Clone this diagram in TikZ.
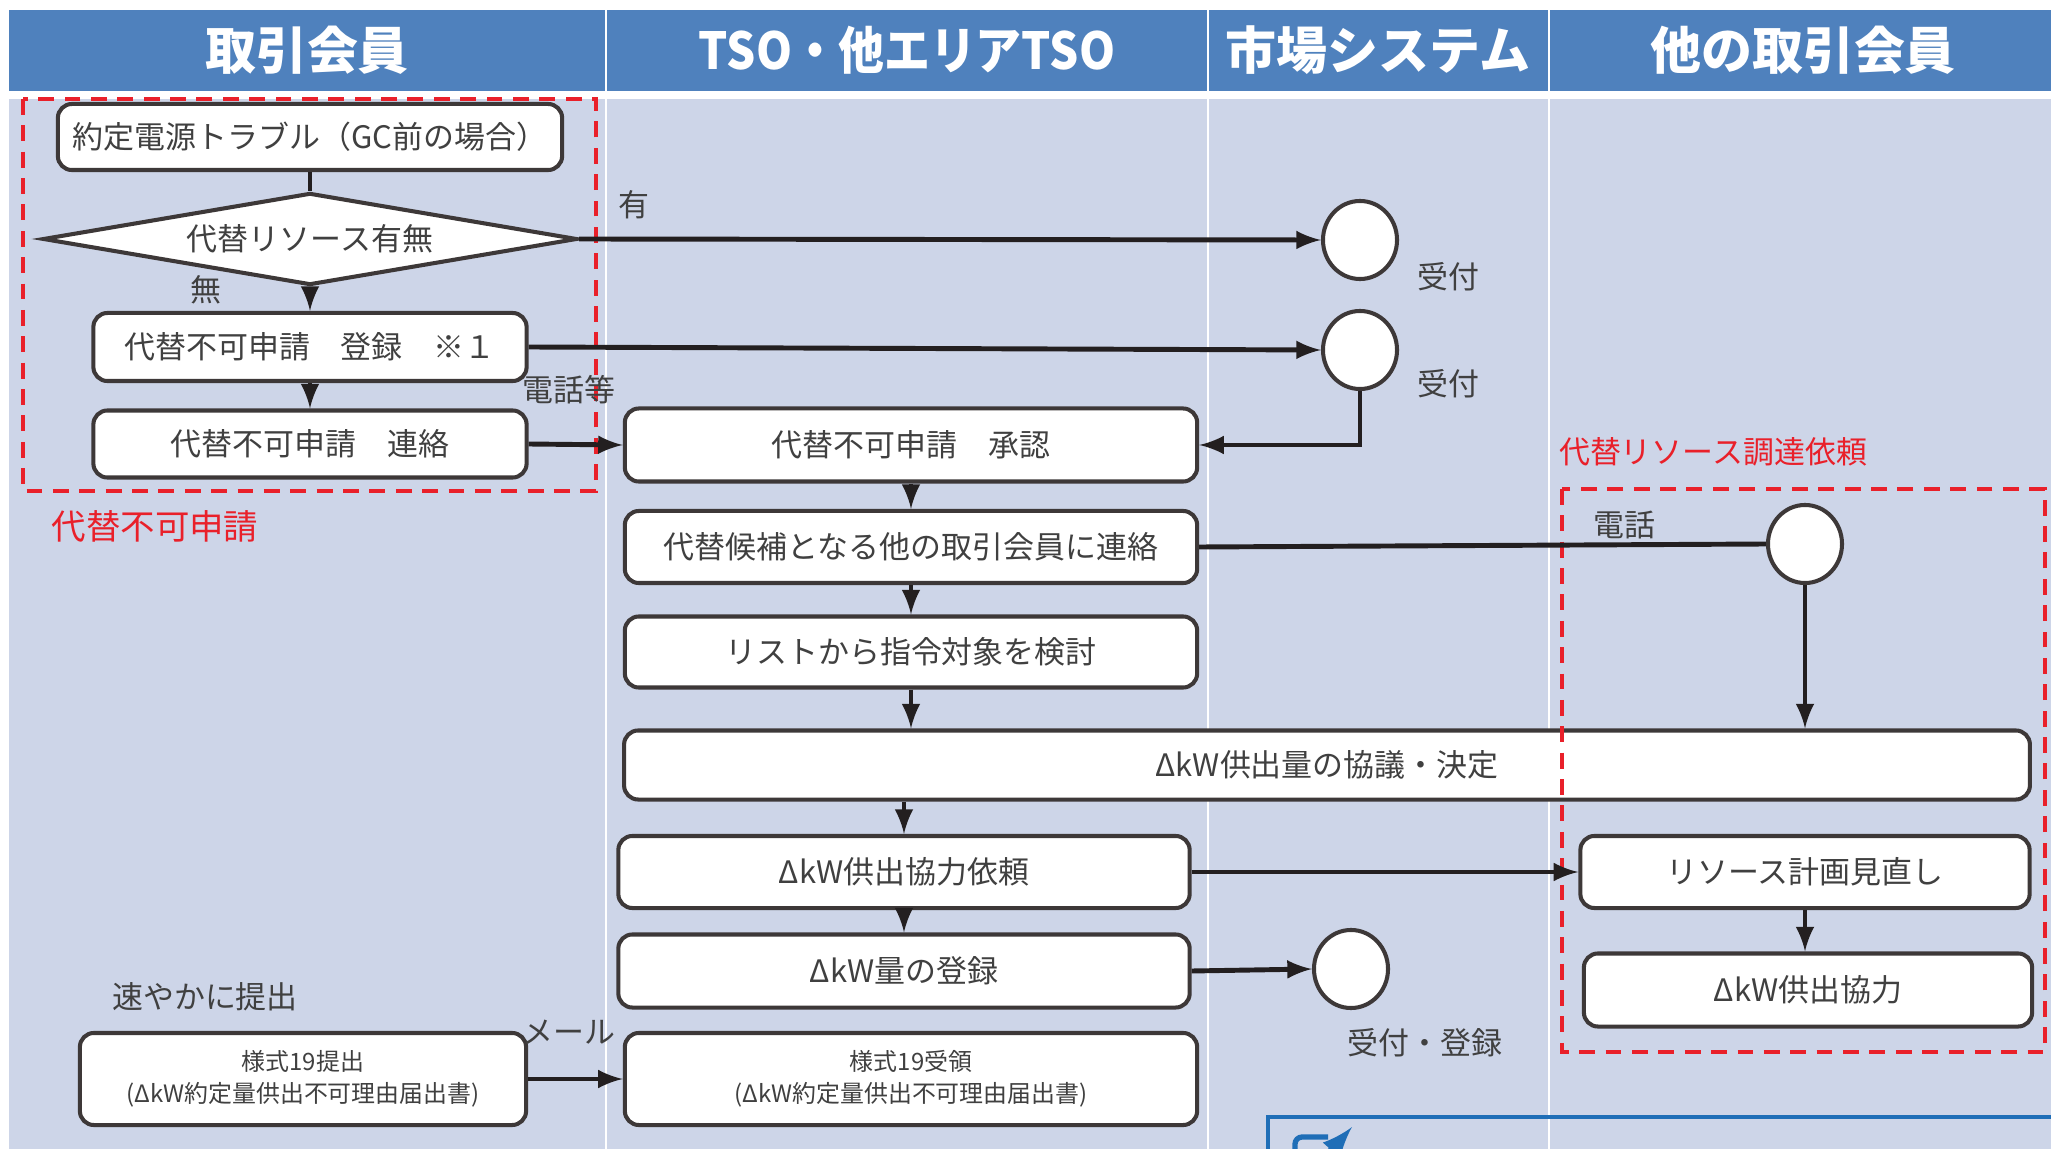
\documentclass[tikz,border=0pt]{standalone}
\usepackage{fontspec}
\setmainfont{Noto Sans CJK JP}
\usetikzlibrary{shapes.geometric}
\definecolor{entete}{HTML}{4F81BD}
\definecolor{fond}{HTML}{CDD5E8}
\definecolor{trait}{HTML}{3D3838}
\definecolor{fleche}{HTML}{231F20}
\definecolor{texte}{HTML}{404040}
\definecolor{rouge}{HTML}{E9202A}
\definecolor{bleu}{HTML}{1F6EB7}
\begin{document}
\begin{tikzpicture}[x=.01cm,y=-.01cm,
		boite/.style={draw=trait,line width=1.15pt,fill=white,rounded corners=4pt,text=texte,font=\fontsize{8.8}{10}\selectfont,inner sep=0pt},
		rond/.style={ellipse,draw=trait,line width=1.15pt,fill=white,minimum width=.74cm,minimum height=.78cm,inner sep=0pt},
		fl/.style={-latex,draw=fleche,line width=1.4pt},
		lab/.style={text=texte,font=\fontsize{8.8}{10}\selectfont},
		rlab/.style={text=rouge,font=\fontsize{8.8}{10}\selectfont},
		cadre/.style={rouge,line width=1.15pt,dash pattern=on 4.5pt off 3pt},
		titre/.style={text=white,font=\fontsize{14.5}{16}\selectfont\bfseries}]
		
		\useasboundingbox (0,0) rectangle (2051,1149);
		\fill[entete] (9,10) rectangle (2051,91);
		\fill[fond] (9,99) rectangle (2051,1149);
		\foreach \k in {606,1208,1549}{
			\draw[white,line width=.8pt] (\k,10) to (\k,1149); }
		
		\node[titre] (h1) at (307,50) {取引会員};
		\node[titre,xscale=.9,transform shape] (h2) at (907,50) {TSO・他エリアTSO};
		\node[titre] (h3) at (1378,50) {市場システム};
		\node[titre] (h4) at (1803,50) {他の取引会員};
		
		%colonne取引会員
		\node[boite,minimum width=5.04cm,minimum height=.66cm] (n1) at (310,137) {約定電源トラブル（GC前の場合）};
		\node[diamond,draw=trait,line width=1.15pt,fill=white,text=texte,font=\fontsize{8.8}{10}\selectfont,inner sep=0pt,aspect=5.8,minimum width=5.34cm,minimum height=.92cm] (d1) at (310,239) {代替リソース有無};
		\node[boite,minimum width=4.33cm,minimum height=.68cm] (n2) at (310,347) {代替不可申請　登録　※１};
		\node[boite,minimum width=4.33cm,minimum height=.67cm] (n3) at (310,444) {代替不可申請　連絡};
		\node[boite,minimum width=4.46cm,minimum height=.92cm,font=\fontsize{6.8}{9}\selectfont,align=center] (n4) at (303,1079) {様式19提出\\(ΔkW約定量供出不可理由届出書)};
		
		%colonne TSO
		\node[boite,minimum width=5.72cm,minimum height=.73cm] (t1) at (911,445) {代替不可申請　承認};
		\node[boite,minimum width=5.72cm,minimum height=.72cm] (t2) at (911,547) {代替候補となる他の取引会員に連絡};
		\node[boite,minimum width=5.72cm,minimum height=.71cm] (t3) at (911,652) {リストから指令対象を検討};
		\node[boite,minimum width=14.05cm,minimum height=.69cm] (t4) at (1327,765) {ΔkW供出量の協議・決定};
		\node[boite,minimum width=5.71cm,minimum height=.72cm] (t5) at (904,872) {ΔkW供出協力依頼};
		\node[boite,minimum width=5.71cm,minimum height=.73cm] (t6) at (904,971) {ΔkW量の登録};
		\node[boite,minimum width=5.72cm,minimum height=.92cm,font=\fontsize{6.8}{9}\selectfont,align=center] (t7) at (911,1079) {様式19受領\\(ΔkW約定量供出不可理由届出書)};
		
		%colonne 他の取引会員
		\node[boite,minimum width=4.49cm,minimum height=.72cm] (r1) at (1805,872) {リソース計画見直し};
		\node[boite,minimum width=4.48cm,minimum height=.73cm] (r2) at (1808,990) {ΔkW供出協力};
		
		\node[rond] (c1) at (1360,240) {};
		\node[rond] (c2) at (1360,350) {};
		\node[rond] (c3) at (1805,544) {};
		\node[rond] (c4) at (1351,969) {};
		
		\draw[cadre] (23,99) rectangle (596,491);
		\draw[cadre] (1562,489) rectangle (2045,1052);
		
		\draw[draw=fleche,line width=1.4pt] (n1.south) to (d1.north);
		\draw[fl] (d1.south) to (n2.north);
		\draw[fl] (n2.south) to (n3.north);
		\draw[fl] (d1.east) to (c1.west);
		\draw[fl] (n2.east) to (c2.west);
		\draw[fl] (n3.east) to (t1.west);
		\draw[fl] (c2.south) |- (t1.east);
		\draw[fl] (t1.south) to (t2.north);
		\draw[fl] (t2.south) to (t3.north);
		\draw[fl] (t3.south) to (t3.south |- t4.north);
		\draw[fl] (t5.north |- t4.south) to (t5.north);
		\draw[fl] (t5.south) to (t6.north);
		\draw[draw=fleche,line width=1.4pt] (t2.east) to (c3.west);
		\draw[fl] (c3.south) to (c3.south |- t4.north);
		\draw[fl] (t5.east) to (r1.west);
		\draw[fl] (r1.south) to (r1.south |- r2.north);
		\draw[fl] (t6.east) to (c4.west);
		\draw[fl] (n4.east) to (t7.west);
		
		\node[lab] (l1) at (206,290) {無};
		\node[lab] (l2) at (634,205) {有};
		\node[lab] (l3) at (1448,277) {受付};
		\node[lab] (l4) at (1448,384) {受付};
		\node[lab] (l5) at (569,390) {電話等};
		\node[lab] (l6) at (1624,525) {電話};
		\node[lab] (l7) at (205,997) {速やかに提出};
		\node[lab] (l8) at (569,1032) {メール};
		\node[lab] (l9) at (1425,1043) {受付・登録};
		\node[rlab,font=\fontsize{9.8}{11}\selectfont] (l10) at (155,526) {代替不可申請};
		\node[rlab] (l11) at (1713,452) {代替リソース調達依頼};
		
		%cadre bleu en bas
		\draw[bleu,line width=1.2pt] (1268,1160) -- (1268,1117) -- (2060,1117);
		\draw[bleu,line width=1.5pt,rounded corners=2pt] (1295,1152) -- (1295,1137) -- (1328,1137);
		\draw[bleu,line width=2pt,-latex] (1330,1152) -- (1352,1127);
		
	\end{tikzpicture}
\end{document}
